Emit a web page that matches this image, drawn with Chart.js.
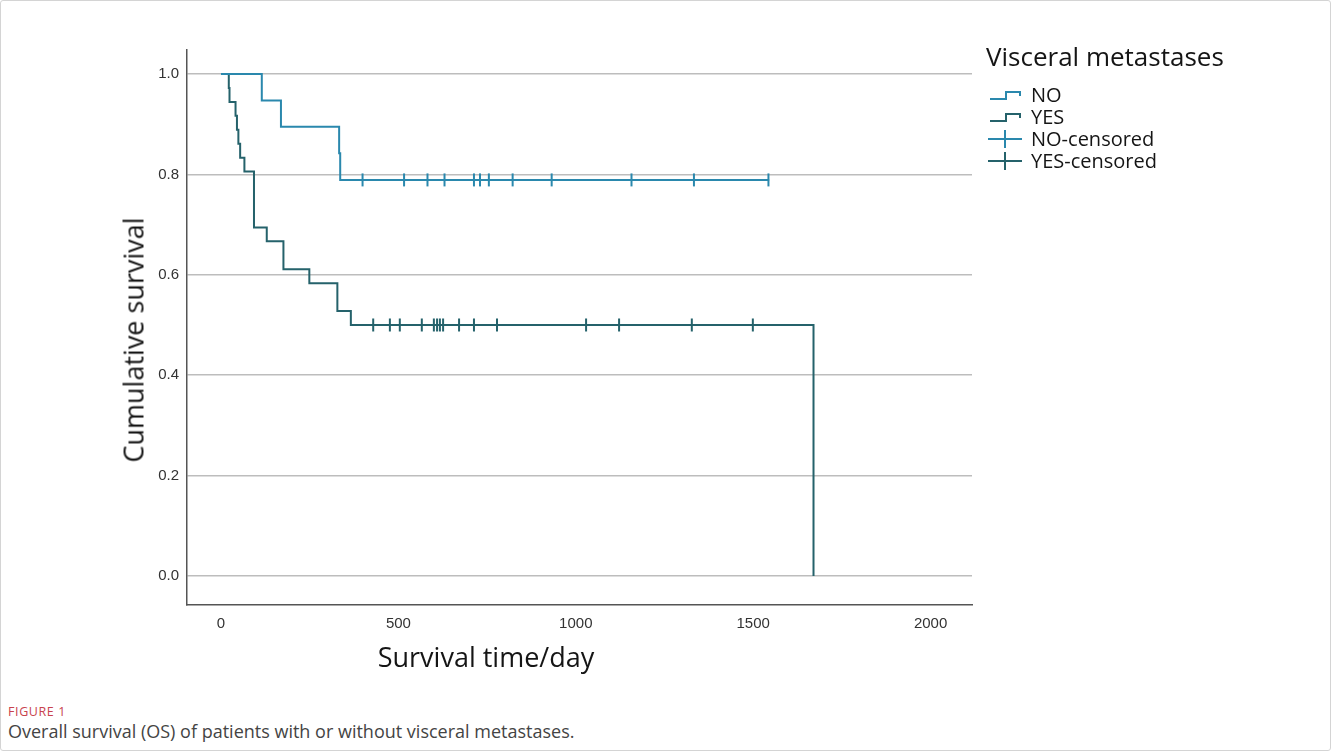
<!DOCTYPE html>
<html>
<head>
<meta charset="utf-8">
<script src="https://cdn.jsdelivr.net/npm/chart.js@4"></script>
<style>
  html, body { margin: 0; padding: 0; background: #fff; }
  body { width: 1331px; height: 751px; position: relative; overflow: hidden; font-family: "Open Sans", sans-serif; }
  #frame { position: absolute; left: 0; top: 0; width: 1329px; height: 749px; border: 1px solid #d4d4d4; border-radius: 3px; }
  #wrap { position: absolute; left: 0; top: 0; width: 1331px; height: 700px; }
  .ytitle { position: absolute; left: 133px; top: 340px; transform: translate(-50%, -50%) rotate(-90deg); font-size: 27px; color: #151515; white-space: nowrap; }
  .xtitle { position: absolute; left: 486px; top: 656px; transform: translate(-50%, -50%); font-size: 27px; color: #151515; white-space: nowrap; }
  .legend { position: absolute; left: 986px; top: 36px; color: #151515; }
  .legend .lt { font-size: 26px; line-height: 40px; margin-bottom: 8px; }
  .legend .it { font-size: 20px; height: 22px; line-height: 22px; display: flex; align-items: center; }
  .legend svg { width: 36px; height: 22px; margin-right: 9px; }
  .fig { position: absolute; left: 8px; top: 703px; font-size: 12.5px; letter-spacing: 0.6px; color: #c8424d; }
  .cap { position: absolute; left: 8px; top: 719px; font-size: 18px; color: #444; }
</style>
</head>
<body>
<div id="frame"></div>
<div id="wrap"><canvas id="km"></canvas></div>
<div class="ytitle">Cumulative survival</div>
<div class="xtitle">Survival time/day</div>
<div class="legend">
  <div class="lt">Visceral metastases</div>
  <div class="it"><svg viewBox="0 0 36 22"><polyline points="4,15 20,15 20,8 34,8 34,12" fill="none" stroke="#2a88ad" stroke-width="2"/></svg>NO</div>
  <div class="it"><svg viewBox="0 0 36 22"><polyline points="4,15 20,15 20,8 34,8 34,12" fill="none" stroke="#25626b" stroke-width="2"/></svg>YES</div>
  <div class="it"><svg viewBox="0 0 36 22"><line x1="2" y1="11" x2="36" y2="11" stroke="#2a88ad" stroke-width="2"/><line x1="19" y1="2" x2="19" y2="20" stroke="#2a88ad" stroke-width="2"/></svg>NO-censored</div>
  <div class="it"><svg viewBox="0 0 36 22"><line x1="2" y1="11" x2="36" y2="11" stroke="#25626b" stroke-width="2"/><line x1="19" y1="2" x2="19" y2="20" stroke="#25626b" stroke-width="2"/></svg>YES-censored</div>
</div>
<div class="fig">FIGURE 1</div>
<div class="cap">Overall survival (OS) of patients with or without visceral metastases.</div>

<script>
// step points of the Kaplan-Meier curves (day, cumulative survival)
var noTimes = [0, 115, 169, 333, 336, 1545];
var noSurv  = [1, 0.947, 0.895, 0.842, 0.789, 0.789];
var noCensored = [399, 516, 582, 630, 713, 730, 755, 822, 932, 1157, 1333, 1543];

var yesTimes = [0, 22, 24, 41, 45, 49, 54, 66, 93, 129, 176, 249, 328, 366, 1670];
var yesSurv  = [1, 0.972, 0.944, 0.917, 0.889, 0.861, 0.833, 0.806, 0.694, 0.667, 0.611, 0.583, 0.528, 0.5, 0];
var yesCensored = [429, 476, 504, 566, 600, 609, 617, 626, 671, 713, 778, 1029, 1122, 1327, 1499];

var xTicks = [0, 500, 1000, 1500, 2000];
var yTicks = [0, 0.2, 0.4, 0.6, 0.8, 1.0];

var NO_COL = "#2a88ad", YES_COL = "#25626b";

function pts(t, s) {
  var out = [];
  for (var i = 0; i < t.length; i++) out.push({ x: t[i], y: s[i] });
  return out;
}
// survival value at a censoring time
function censPts(c, t, s) {
  var out = [];
  for (var i = 0; i < c.length; i++) {
    var v = s[0];
    for (var j = 0; j < t.length; j++) { if (t[j] <= c[i]) v = s[j]; }
    out.push({ x: c[i], y: v });
  }
  return out;
}

var ctx = document.getElementById("km").getContext("2d");
new Chart(ctx, {
  type: "line",
  data: {
    datasets: [
      { label: "NO", data: pts(noTimes, noSurv), stepped: "before", borderColor: NO_COL, borderWidth: 2, pointRadius: 0, fill: false },
      { label: "YES", data: pts(yesTimes, yesSurv), stepped: "before", borderColor: YES_COL, borderWidth: 2, pointRadius: 0, fill: false },
      { label: "NO-censored", type: "scatter", data: censPts(noCensored, noTimes, noSurv), pointStyle: "line", rotation: 90, pointRadius: 6.5, borderColor: NO_COL, borderWidth: 2 },
      { label: "YES-censored", type: "scatter", data: censPts(yesCensored, yesTimes, yesSurv), pointStyle: "line", rotation: 90, pointRadius: 6.5, borderColor: YES_COL, borderWidth: 2 }
    ]
  },
  options: {
    responsive: true,
    maintainAspectRatio: false,
    animation: false,
    layout: { padding: { left: 0, top: 50, right: 359, bottom: 55 } },
    plugins: { legend: { display: false }, tooltip: { enabled: false } },
    scales: {
      x: {
        type: "linear", min: -95.8, max: 2116.7,
        afterBuildTicks: function(s) { s.ticks = xTicks.map(function(v) { return { value: v }; }); },
        afterFit: function(s) { s.height = 40; },
        grid: { display: false, drawTicks: false },
        border: { color: "#555", width: 1.5 },
        ticks: { color: "#333", padding: 10, font: { family: "Liberation Sans", size: 15 }, callback: function(v) { return String(v); } }
      },
      y: {
        type: "linear", min: -0.0578, max: 1.0478,
        afterBuildTicks: function(s) { s.ticks = yTicks.map(function(v) { return { value: v }; }); },
        afterFit: function(s) { s.width = 187; },
        grid: { color: "#bdbdbd", lineWidth: 1.5, drawTicks: false },
        border: { color: "#555", width: 1.5 },
        ticks: { color: "#333", padding: 8, font: { family: "Liberation Sans", size: 15 }, callback: function(v) { return v.toFixed(1); } }
      }
    }
  }
});
</script>
</body>
</html>
